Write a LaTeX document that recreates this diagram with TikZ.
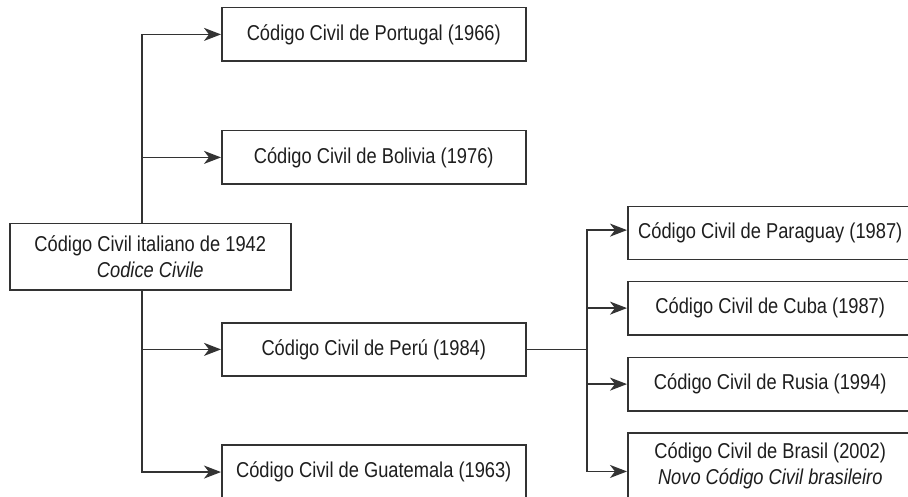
\documentclass[tikz,border=0pt]{standalone}
\usepackage{fontspec}
\setmainfont{Liberation Sans}[FakeStretch=0.85]
\usetikzlibrary{arrows.meta}
\definecolor{linec}{HTML}{333333}
\definecolor{txtc}{HTML}{1E1E1E}
\begin{document}
\begin{tikzpicture}[x=1pt,y=-1pt,
  box/.style={draw=linec, line width=1.5pt, minimum width=304pt, minimum height=53.3pt,
    inner sep=0pt, font=\fontsize{21.5}{26}\selectfont, text=txtc, align=center, anchor=north west},
  conn/.style={draw=linec, line width=1.5pt},
  arr/.style={conn, -{Stealth[length=17pt,width=13pt,inset=5pt]}}]
\fill[white] (0,0) rectangle (908,497);
\clip (0,0) rectangle (908,497);
\node[box] (port) at (221,7) {Código Civil de Portugal (1966)};
\node[box] (boli) at (221,130) {Código Civil de Bolivia (1976)};
\node[box, minimum width=281pt, minimum height=66pt] (ital) at (9,223) {Código Civil italiano de 1942\\\textit{Codice Civile}};
\node[box] (peru) at (221,322) {Código Civil de Perú (1984)};
\node[box, minimum height=54pt] (guat) at (221,444.3) {Código Civil de Guatemala (1963)};
\node[box, minimum width=285pt] (para) at (627,205.7) {Código Civil de Paraguay (1987)};
\node[box, minimum width=285pt] (cuba) at (627,280.7) {Código Civil de Cuba (1987)};
\node[box, minimum width=285pt] (rusi) at (627,356.7) {Código Civil de Rusia (1994)};
\node[box, minimum width=285pt, minimum height=66pt] (bras) at (627,432.3) {Código Civil de Brasil (2002)\\\textit{Novo Código Civil brasileiro}};
\coordinate (tx) at (142,0);
\coordinate (bx) at (587,0);
\draw[arr] (ital.north -| tx) |- (port.west);
\draw[arr] (ital.north -| tx) |- (boli.west);
\draw[arr] (ital.south -| tx) |- (peru.west);
\draw[arr] (ital.south -| tx) |- (guat.west);
\coordinate (bj) at (peru.east -| bx);
\draw[conn] (peru.east) -- (bj);
\draw[arr] (bj) |- ([yshift=3pt]para.west);
\draw[arr] (bj) |- (cuba.west);
\draw[arr] (bj) |- (rusi.west);
\draw[arr] (bj) |- ([yshift=-5.4pt]bras.west);
\end{tikzpicture}
\end{document}
